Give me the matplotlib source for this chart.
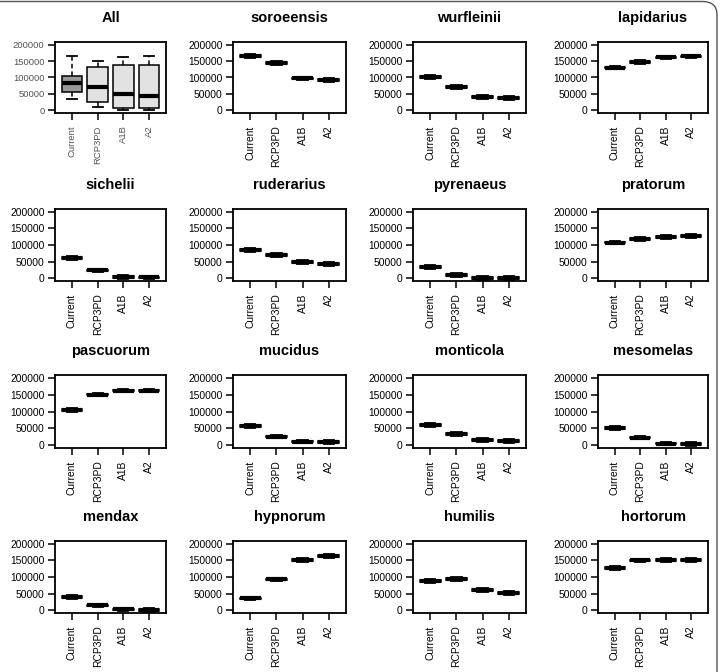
import numpy as np
import matplotlib
matplotlib.use("Agg")
import matplotlib.pyplot as plt
from matplotlib.patches import FancyBboxPatch

plt.rcParams["font.family"] = ["Liberation Sans", "DejaVu Sans"]

#%% data (range size per scenario)
scenarios = ["Current", "RCP3PD", "A1B", "A2"]
yticks = [0, 50000, 100000, 150000, 200000]

soroeensis = [165000, 144000, 97000, 92000]
wurfleinii = [101000, 72000, 41000, 38000]
lapidarius = [130000, 148000, 161000, 164000]
sichelii = [61000, 24000, 5000, 3000]
ruderarius = [84000, 70000, 49000, 43000]
pyrenaeus = [35000, 10000, 2000, 1500]
pratorum = [107000, 119000, 125000, 127000]
pascuorum = [105000, 150000, 162000, 162000]
mucidus = [58000, 26000, 11000, 9000]
monticola = [61000, 33000, 16000, 13000]
mesomelas = [52000, 23000, 5000, 3000]
mendax = [41000, 15000, 3000, 2000]
hypnorum = [36000, 93000, 152000, 163000]
humilis = [89000, 95000, 62000, 52000]
hortorum = [128000, 150000, 152000, 151000]

species = [
    ("soroeensis", soroeensis), ("wurfleinii", wurfleinii), ("lapidarius", lapidarius),
    ("sichelii", sichelii), ("ruderarius", ruderarius), ("pyrenaeus", pyrenaeus),
    ("pratorum", pratorum), ("pascuorum", pascuorum), ("mucidus", mucidus),
    ("monticola", monticola), ("mesomelas", mesomelas), ("mendax", mendax),
    ("hypnorum", hypnorum), ("humilis", humilis), ("hortorum", hortorum),
]

box_half = 2500     # spread of the narrow per-species boxes
whisk_half = 5500


def fivenum(v):
    # Tukey hinges like R boxplot
    v = np.sort(np.asarray(v, dtype=float))
    n = len(v)
    n4 = np.floor((n + 3) / 2) / 2
    d = np.array([1, n4, (n + 1) / 2, n + 1 - n4, n]) - 1
    return 0.5 * (v[np.floor(d).astype(int)] + v[np.ceil(d).astype(int)])


#%% layout, pixel boxes (left, top, right, bottom)
W, H = 722, 672
cols = [(55, 166), (233, 346), (413, 526), (598, 708)]
rows = [(42, 113), (209, 281), (375, 448), (541, 613)]

fig = plt.figure(figsize=(W / 100, H / 100), dpi=100)
fig.patches.append(FancyBboxPatch((-30 / W, -30 / H), (717 + 30) / W, (H - 1.5 + 30) / H,
                                  boxstyle="round,pad=0,rounding_size=0.02",
                                  transform=fig.transFigure, fill=False,
                                  edgecolor="#555555", lw=1.0))

fills = ["#999999", "#e2e2e2", "#e2e2e2", "#e2e2e2"]


def make_ax(i):
    r, c = divmod(i, 4)
    x0, x1 = cols[c]
    y0, y1 = rows[r]
    ax = fig.add_axes([x0 / W, 1 - y1 / H, (x1 - x0) / W, (y1 - y0) / H])
    return ax


def style_ax(ax, title, size, color):
    ax.set_xlim(0.5 - 0.16, 4.5 + 0.16)
    ax.set_ylim(-8000, 208000)
    ax.set_yticks(yticks)
    ax.set_yticklabels([str(t) for t in yticks], fontsize=size, color=color)
    ax.set_xticks(range(1, 5))
    ax.set_xticklabels(scenarios, rotation=90, fontsize=size, color=color)
    ax.tick_params(direction="out", length=5, width=1.1)
    ax.tick_params(axis="x", pad=4)
    ax.tick_params(axis="y", pad=2.5)
    for s in ax.spines.values():
        s.set_linewidth(1.3)
    ax.set_title(title, fontsize=10.5, fontweight="bold", pad=14.5)


def draw(ax, stats):
    bp = ax.bxp(stats, positions=range(1, 5), widths=0.8, patch_artist=True,
                showfliers=False,
                medianprops=dict(color="black", lw=3, solid_capstyle="butt"),
                whiskerprops=dict(color="black", lw=1.1, linestyle=(0, (3, 2))),
                capprops=dict(color="black", lw=1.3),
                boxprops=dict(edgecolor="black", lw=1.1))
    for p, f in zip(bp["boxes"], fills):
        p.set_facecolor(f)
    for cap in bp["caps"]:
        xd = cap.get_xdata()
        m = np.mean(xd)
        cap.set_xdata([m - 0.2, m + 0.2])


#%% "All" panel from the species values
ax = make_ax(0)
all_stats = []
for j in range(4):
    mn, lo, md, hi, mx = fivenum([v[j] for _, v in species])
    all_stats.append(dict(med=md, q1=lo, q3=hi, whislo=mn, whishi=mx))
draw(ax, all_stats)
style_ax(ax, "All", 6.8, "#555555")

#%% species panels
for i, (name, vals) in enumerate(species, start=1):
    ax = make_ax(i)
    st = [dict(med=v, q1=v - box_half, q3=v + box_half,
               whislo=v - whisk_half, whishi=v + whisk_half) for v in vals]
    draw(ax, st)
    style_ax(ax, name, 7.4, "black")

fig.savefig("out.png", dpi=100)
